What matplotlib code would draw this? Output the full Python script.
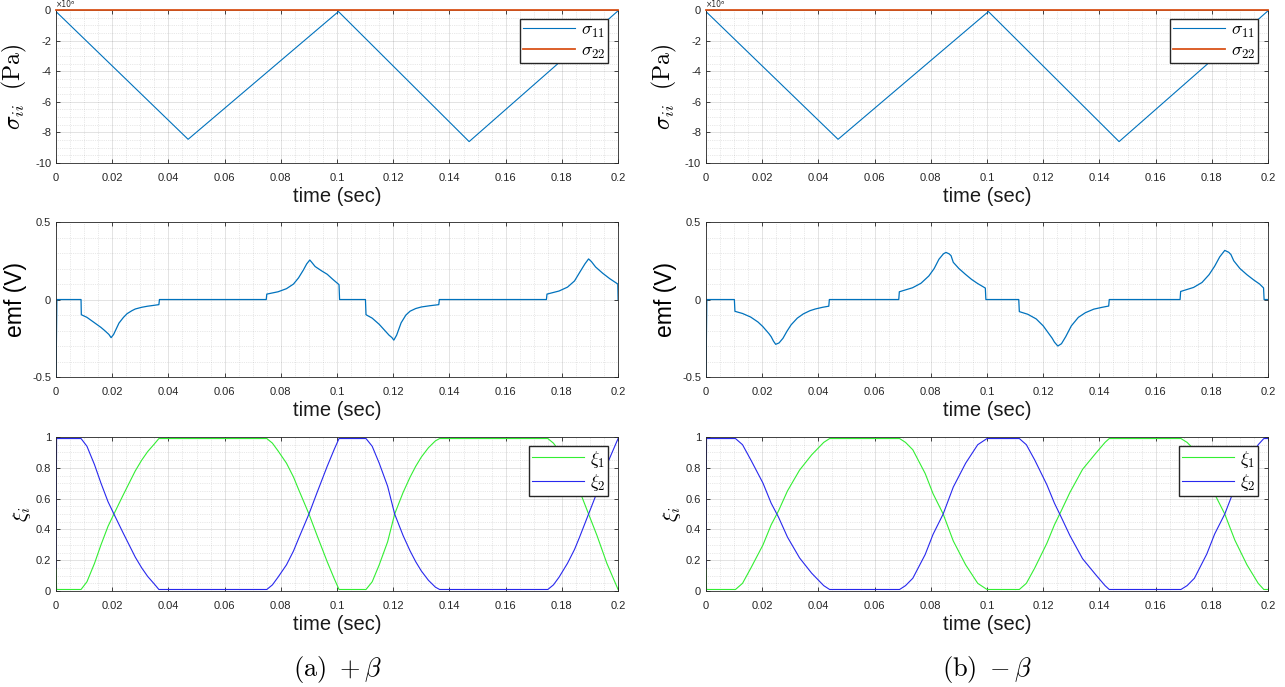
import matplotlib
matplotlib.use("Agg")
import matplotlib.pyplot as plt
from matplotlib.ticker import MultipleLocator

plt.rcParams['font.family'] = ['Liberation Sans', 'DejaVu Sans']
plt.rcParams['mathtext.fontset'] = 'cm'

# -------------------------------
# Data
# -------------------------------

# stress, units of 1e6 Pa (same for both cases)
sig_t = [0.0, 0.047, 0.1005, 0.147, 0.2]
sig11_a = [-0.1, -8.45, -0.1, -8.6, -0.05]
sig11_b = [-0.1, -8.45, -0.1, -8.6, -0.05]
sig22_t = [0.0, 0.2]
sig22 = [0.0, 0.0]

# emf (V), case (a) +beta
emf_a_t = [0, 0.0003, 0.0089, 0.0090, 0.0110, 0.0137, 0.0160, 0.0173, 0.0188, 0.0196,
           0.0205, 0.0224, 0.0240, 0.0253, 0.0270, 0.0282, 0.0305, 0.0326, 0.0350, 0.0366,
           0.0368, 0.0748, 0.0750, 0.0790, 0.0820, 0.0845, 0.0863, 0.0880, 0.0892, 0.0903,
           0.0910, 0.0922, 0.0945, 0.0965, 0.0985, 0.1007, 0.1009,
           0.1101, 0.1103, 0.1125, 0.1150, 0.1170, 0.1185, 0.1195, 0.1202,
           0.1212, 0.1228, 0.1245, 0.1260, 0.1280, 0.1300, 0.1330, 0.1362,
           0.1364, 0.1745, 0.1747, 0.1790, 0.1820, 0.1845, 0.1865, 0.1882, 0.1895,
           0.1905, 0.1920, 0.1945, 0.1970, 0.1999, 0.2]
emf_a = [-0.5, 0, 0, -0.098, -0.115, -0.150, -0.180, -0.200, -0.225, -0.246,
         -0.225, -0.152, -0.115, -0.091, -0.072, -0.061, -0.050, -0.043, -0.037, -0.033,
         0, 0, 0.035, 0.050, 0.070, 0.100, 0.140, 0.190, 0.230, 0.255,
         0.240, 0.213, 0.185, 0.163, 0.130, 0.096, 0,
         0, -0.098, -0.120, -0.160, -0.200, -0.230, -0.245, -0.262,
         -0.230, -0.150, -0.100, -0.075, -0.058, -0.048, -0.040, -0.033,
         0, 0, 0.035, 0.055, 0.080, 0.120, 0.180, 0.230, 0.262,
         0.245, 0.210, 0.170, 0.135, 0.100, 0]

# emf (V), case (b) -beta
emf_b_t = [0, 0.0003, 0.0101, 0.0103, 0.0130, 0.0159, 0.0185, 0.0202, 0.0224, 0.0232,
           0.0240, 0.0248, 0.0260, 0.0274, 0.0288, 0.0303, 0.0325, 0.0346, 0.0370, 0.0389,
           0.0415, 0.0437, 0.0439, 0.0686, 0.0688, 0.0735, 0.0765, 0.0793, 0.0812, 0.0829,
           0.0845, 0.0854, 0.0865, 0.0872, 0.0880, 0.0900, 0.0923, 0.0945, 0.0966, 0.0994,
           0.0996,
           0.1113, 0.1115, 0.1145, 0.1175, 0.1200, 0.1222, 0.1232, 0.1240, 0.1252,
           0.1265, 0.1280, 0.1300, 0.1325, 0.1350, 0.1380, 0.1410, 0.1433,
           0.1435, 0.1687, 0.1689, 0.1735, 0.1765, 0.1790, 0.1810, 0.1828, 0.1846,
           0.1860, 0.1868, 0.1878, 0.1900, 0.1925, 0.1950, 0.1970, 0.1984, 0.1986, 0.2]
emf_b = [-0.5, 0, 0, -0.076, -0.090, -0.113, -0.145, -0.174, -0.220, -0.240,
         -0.268, -0.289, -0.280, -0.250, -0.205, -0.163, -0.120, -0.093, -0.072, -0.061,
         -0.050, -0.043, 0, 0, 0.050, 0.076, 0.105, 0.152, 0.200, 0.260,
         0.295, 0.304, 0.295, 0.283, 0.240, 0.200, 0.163, 0.130, 0.104, 0.074,
         0,
         0, -0.078, -0.095, -0.125, -0.170, -0.225, -0.250, -0.275, -0.300,
         -0.285, -0.240, -0.170, -0.115, -0.085, -0.062, -0.050, -0.042,
         0, 0, 0.052, 0.078, 0.110, 0.160, 0.215, 0.275, 0.317,
         0.305, 0.290, 0.250, 0.200, 0.160, 0.125, 0.100, 0.075, 0, 0]

# phase fractions, case (a)
xi_a_t = [0, 0.0002, 0.0089, 0.0110, 0.0137, 0.0160, 0.0185, 0.0206, 0.0238, 0.0260,
          0.0282, 0.0305, 0.0326, 0.0350, 0.0366, 0.0750, 0.0770, 0.0790, 0.0820, 0.0845,
          0.0863, 0.0900, 0.0929, 0.0965, 0.0990, 0.1007, 0.1103, 0.1125, 0.1150, 0.1180,
          0.1205, 0.1235, 0.1260, 0.1280, 0.1300, 0.1325, 0.1350, 0.1365, 0.1750, 0.1770,
          0.1790, 0.1820, 0.1845, 0.1863, 0.1895, 0.1925, 0.1960, 0.2]
xi2_a = [0.15, 0.99, 0.99, 0.94, 0.82, 0.70, 0.58, 0.50, 0.38, 0.30,
         0.22, 0.15, 0.095, 0.045, 0.01, 0.01, 0.04, 0.09, 0.17, 0.26,
         0.34, 0.50, 0.64, 0.81, 0.92, 0.99, 0.99, 0.94, 0.83, 0.68,
         0.50, 0.36, 0.26, 0.19, 0.13, 0.07, 0.025, 0.01, 0.01, 0.04,
         0.09, 0.18, 0.27, 0.35, 0.50, 0.64, 0.82, 0.99]
xi1_a = [0.15, 0.01, 0.01, 0.06, 0.18, 0.30, 0.42, 0.50, 0.62, 0.70,
         0.78, 0.85, 0.905, 0.955, 0.99, 0.99, 0.96, 0.91, 0.83, 0.74,
         0.66, 0.50, 0.36, 0.19, 0.08, 0.01, 0.01, 0.06, 0.17, 0.32,
         0.50, 0.64, 0.74, 0.81, 0.87, 0.93, 0.975, 0.99, 0.99, 0.96,
         0.91, 0.82, 0.73, 0.65, 0.50, 0.36, 0.18, 0.01]

# phase fractions, case (b)
xi_b_t = [0, 0.0002, 0.0105, 0.0130, 0.0160, 0.0203, 0.0232, 0.0258, 0.0290, 0.0333,
          0.0376, 0.0419, 0.0440, 0.0689, 0.0710, 0.0736, 0.0780, 0.0808, 0.0844, 0.0880,
          0.0924, 0.0967, 0.1000, 0.1115, 0.1140, 0.1170, 0.1213, 0.1240, 0.1264, 0.1295,
          0.1340, 0.1385, 0.1420, 0.1435, 0.1690, 0.1712, 0.1738, 0.1782, 0.1810, 0.1846,
          0.1882, 0.1925, 0.1965, 0.1985, 0.2]
xi2_b = [0.15, 0.99, 0.99, 0.95, 0.85, 0.70, 0.57, 0.48, 0.35, 0.215,
         0.116, 0.035, 0.01, 0.01, 0.035, 0.083, 0.237, 0.368, 0.50, 0.675,
         0.83, 0.95, 0.99, 0.99, 0.95, 0.85, 0.69, 0.57, 0.48, 0.36,
         0.21, 0.11, 0.035, 0.01, 0.01, 0.035, 0.083, 0.24, 0.37, 0.50,
         0.67, 0.83, 0.95, 0.99, 0.99]
xi1_b = [0.15, 0.01, 0.01, 0.05, 0.15, 0.30, 0.43, 0.52, 0.65, 0.785,
         0.884, 0.965, 0.99, 0.99, 0.965, 0.917, 0.763, 0.632, 0.50, 0.325,
         0.17, 0.05, 0.01, 0.01, 0.05, 0.15, 0.31, 0.43, 0.52, 0.64,
         0.79, 0.89, 0.965, 0.99, 0.99, 0.965, 0.917, 0.76, 0.63, 0.50,
         0.33, 0.17, 0.05, 0.01, 0.01]

x_ticks = [0, 0.02, 0.04, 0.06, 0.08, 0.1, 0.12, 0.14, 0.16, 0.18, 0.2]
x_ticklabels = ['0', '0.02', '0.04', '0.06', '0.08', '0.1', '0.12', '0.14', '0.16', '0.18', '0.2']

# -------------------------------
# Styling helpers
# -------------------------------
C_BLUE = '#0072BD'
C_ORANGE = '#D95319'
C_GREEN = '#33EE33'
C_XBLUE = '#2828EE'
AX_COL = '#262626'


def style(ax, ymin, ymax, ymaj, ymin_step, yticklabels):
    ax.set_xlim(0, 0.2)
    ax.set_ylim(ymin, ymax)
    ax.set_xticks(x_ticks)
    ax.set_xticklabels(x_ticklabels)
    ax.xaxis.set_minor_locator(MultipleLocator(0.005))
    ax.set_yticks(ymaj)
    ax.set_yticklabels(yticklabels)
    ax.yaxis.set_minor_locator(MultipleLocator(ymin_step))
    ax.tick_params(which='both', direction='in', top=True, right=True,
                   colors=AX_COL, labelsize=8, length=3, width=0.6)
    ax.tick_params(axis='x', pad=7)
    ax.tick_params(which='minor', length=0)
    ax.grid(which='major', color='#262626', alpha=0.15, lw=0.6)
    ax.grid(which='minor', color='#262626', alpha=0.2, lw=0.5, ls=':')
    for s in ax.spines.values():
        s.set_color(AX_COL)
        s.set_linewidth(0.6)
    ax.set_xlabel('time (sec)', fontsize=14.5, labelpad=3, color='#1a1a1a')


def legend(ax, top):
    ax.legend(loc='upper right', bbox_to_anchor=(0.982, top), fontsize=13, handlelength=2.9,
              fancybox=False, edgecolor=AX_COL, framealpha=1, borderpad=0.15,
              labelspacing=0.15, handletextpad=0.3, borderaxespad=0)


fig = plt.figure(figsize=(12.85, 6.87), dpi=100)

cols = [0.0436, 0.5494]
w = 0.4374
rows = [(0.7627, 0.2227), (0.4512, 0.2256), (0.1397, 0.2242)]

cases = [
    (sig11_a, emf_a_t, emf_a, xi_a_t, xi1_a, xi2_a, r'$\mathrm{(a)}\ +\beta$'),
    (sig11_b, emf_b_t, emf_b, xi_b_t, xi1_b, xi2_b, r'$\mathrm{(b)}\ -\beta$'),
]

for x0, (s11, et, ev, xt, x1, x2, cap) in zip(cols, cases):
    # stress
    ax = fig.add_axes([x0, rows[0][0], w, rows[0][1]])
    ax.plot(sig_t, s11, color=C_BLUE, lw=0.8, label=r'$\sigma_{11}$')
    ax.plot(sig22_t, sig22, color=C_ORANGE, lw=1.3, label=r'$\sigma_{22}$', clip_on=False, zorder=5)
    style(ax, -10, 0, [-10, -8, -6, -4, -2, 0], 0.5, ['-10', '-8', '-6', '-4', '-2', '0'])
    ax.set_ylabel(r'$\sigma_{ii}\ \ (\mathrm{Pa})$', fontsize=17, labelpad=4)
    ax.text(0.0, 1.005, '\u00d710\u2076', transform=ax.transAxes, fontsize=5.5, color=AX_COL,
            family='DejaVu Sans', va='bottom', ha='left')
    legend(ax, 0.941)

    # emf
    ax = fig.add_axes([x0, rows[1][0], w, rows[1][1]])
    ax.plot(et, ev, color=C_BLUE, lw=0.9)
    style(ax, -0.5, 0.5, [-0.5, 0, 0.5], 0.1, ['-0.5', '0', '0.5'])
    ax.set_ylabel('emf (V)', fontsize=16.5, labelpad=4)

    # phase fractions
    ax = fig.add_axes([x0, rows[2][0], w, rows[2][1]])
    ax.plot(xt, x1, color=C_GREEN, lw=0.8, label=r'$\xi_1$')
    ax.plot(xt, x2, color=C_XBLUE, lw=0.8, label=r'$\xi_2$')
    style(ax, 0, 1, [0, 0.2, 0.4, 0.6, 0.8, 1], 0.05, ['0', '0.2', '0.4', '0.6', '0.8', '1'])
    ax.set_ylabel(r'$\xi_i$', fontsize=15, labelpad=2)
    legend(ax, 0.942)

    fig.text(x0 + w / 2, 0.025, cap, ha='center', va='center', fontsize=19)

fig.savefig('out.png', dpi=100)
